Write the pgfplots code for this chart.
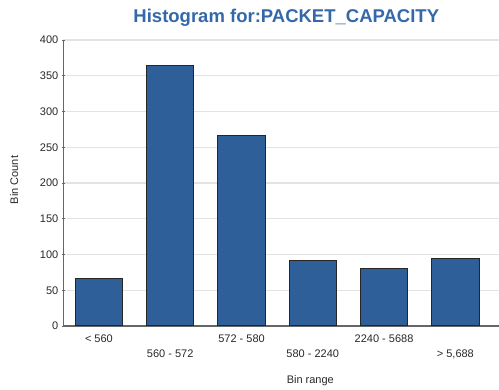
\documentclass[border=0pt]{standalone}
\usepackage{pgfplots}
\pgfplotsset{compat=1.18}
\usepackage{fontspec}
\setmainfont{Liberation Sans}
\definecolor{barblue}{RGB}{47,95,153}
\definecolor{titleblue}{RGB}{52,104,170}
\definecolor{txtgray}{RGB}{40,40,40}
\begin{document}
\begin{tikzpicture}
\begin{axis}[
  name=ax, at={(0pt,0pt)}, anchor=south west,
  scale only axis, width=499pt, height=286pt,
  xmin=-0.5, xmax=6.5, ymin=0, ymax=400,
  axis x line=bottom, axis y line=left,
  axis line style={draw=gray!80!black, line width=1.3pt, -},
  ybar, bar width=47.5pt,
  xtick={0,1,2,3,4,5}, 
  xticklabels={< 560, 560 - 572, 572 - 580, 580 - 2240, 2240 - 5688, {> 5,688}},
  xticklabel style={font=\fontsize{11}{13}\selectfont, text=txtgray, anchor=north, yshift={-2pt-mod(\ticknum,2)*15pt}},
  x tick style={draw=none},
  ytick={0,50,...,400},
  yticklabel style={font=\fontsize{11}{13}\selectfont, text=txtgray},
  y tick style={draw=gray!80!black, line width=0.8pt},
  major tick length=3pt,
  ymajorgrids, grid style={draw=gray!22, line width=1.2pt},
  /pgf/number format/assume math mode=true,
  clip=false,
]
\addplot[fill=barblue, draw=black!85, line width=1pt] coordinates {(0,67) (1,364) (2,266) (3,92) (4,81) (5,94)};
\end{axis}
\node[font=\bfseries\fontsize{18.5}{22}\selectfont, text=titleblue] at (223pt,308pt) {Histogram for:PACKET\_CAPACITY};
\node[font=\fontsize{11}{13}\selectfont, text=txtgray, rotate=90] at (-49pt,146pt) {Bin Count};
\node[font=\fontsize{11}{13}\selectfont, text=txtgray] at (247pt,-55pt) {Bin range};
\pgfresetboundingbox
\path[use as bounding box] (-63.3pt,-64pt) rectangle (435.7pt,326pt);
\end{tikzpicture}
\end{document}
